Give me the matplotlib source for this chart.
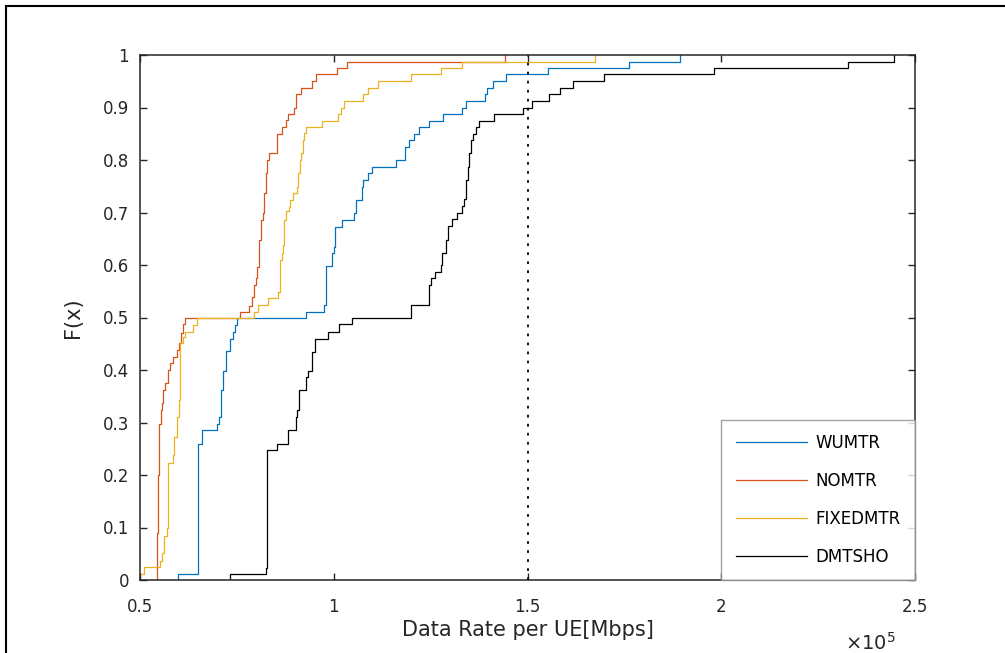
import numpy as np
import matplotlib
matplotlib.use('Agg')
import matplotlib.pyplot as plt
from matplotlib.patches import Rectangle

# MATLAB default colours
colors = ['#0072BD', '#D95319', '#EDB120', '#000000']
labels = ['WUMTR', 'NOMTR', 'FIXEDMTR', 'DMTSHO']

###########################################################
# step points of the empirical CDFs (x in units of 1e5)
###########################################################
x_wumtr = [0.599, 0.599, 0.650, 0.659, 0.699, 0.704, 0.708, 0.713, 0.721, 0.732, 0.739, 0.745, 0.750,
           0.928, 0.975, 0.980, 0.996, 1.001, 1.003, 1.021, 1.053, 1.057, 1.072, 1.076, 1.088, 1.099,
           1.160, 1.184, 1.195, 1.207, 1.221, 1.246, 1.283, 1.330, 1.341, 1.390, 1.396, 1.412, 1.444,
           1.554, 1.763, 1.894]
F_wumtr = [0.0, 0.012, 0.260, 0.286, 0.298, 0.311, 0.362, 0.399, 0.437, 0.460, 0.473, 0.486, 0.500,
           0.511, 0.524, 0.599, 0.622, 0.635, 0.673, 0.686, 0.699, 0.724, 0.749, 0.762, 0.775, 0.787,
           0.800, 0.825, 0.838, 0.849, 0.862, 0.875, 0.888, 0.900, 0.913, 0.926, 0.938, 0.951, 0.963,
           0.975, 0.987, 1.0]

x_nomtr = [0.544, 0.544, 0.547, 0.550, 0.553, 0.557, 0.560, 0.564, 0.571, 0.577, 0.584, 0.595, 0.600,
           0.607, 0.612, 0.616, 0.758, 0.782, 0.789, 0.794, 0.799, 0.803, 0.806, 0.808, 0.811, 0.817,
           0.821, 0.824, 0.829, 0.834, 0.853, 0.866, 0.877, 0.882, 0.897, 0.903, 0.915, 0.943, 0.954,
           1.009, 1.033, 1.443]
F_nomtr = [0.0, 0.090, 0.200, 0.298, 0.324, 0.337, 0.362, 0.375, 0.400, 0.413, 0.425, 0.438, 0.451,
           0.470, 0.488, 0.500, 0.511, 0.521, 0.540, 0.562, 0.575, 0.597, 0.638, 0.648, 0.686, 0.700,
           0.737, 0.775, 0.800, 0.813, 0.850, 0.862, 0.876, 0.888, 0.900, 0.926, 0.938, 0.951, 0.963,
           0.976, 0.987, 1.0]

x_fixed = [0.497, 0.497, 0.510, 0.552, 0.558, 0.563, 0.569, 0.572, 0.584, 0.589, 0.595, 0.601, 0.603,
           0.610, 0.616, 0.638, 0.648, 0.795, 0.805, 0.831, 0.855, 0.861, 0.866, 0.870, 0.872, 0.878,
           0.884, 0.887, 0.896, 0.904, 0.909, 0.913, 0.916, 0.920, 0.923, 0.928, 0.969, 1.010, 1.018,
           1.026, 1.076, 1.089, 1.115, 1.199, 1.278, 1.332, 1.673]
F_fixed = [0.0, 0.012, 0.024, 0.036, 0.052, 0.083, 0.100, 0.222, 0.238, 0.273, 0.311, 0.343, 0.451,
           0.463, 0.473, 0.486, 0.500, 0.511, 0.524, 0.537, 0.549, 0.610, 0.622, 0.638, 0.686, 0.702,
           0.711, 0.724, 0.737, 0.749, 0.775, 0.800, 0.813, 0.838, 0.851, 0.862, 0.875, 0.888, 0.900,
           0.913, 0.926, 0.938, 0.951, 0.963, 0.976, 0.987, 1.0]

x_dmtsho = [0.732, 0.732, 0.825, 0.829, 0.853, 0.881, 0.902, 0.906, 0.911, 0.928, 0.933, 0.945, 0.952,
            0.984, 1.014, 1.046, 1.199, 1.246, 1.250, 1.261, 1.276, 1.280, 1.289, 1.294, 1.304, 1.319,
            1.330, 1.336, 1.341, 1.346, 1.350, 1.354, 1.360, 1.366, 1.375, 1.414, 1.489, 1.511, 1.556,
            1.584, 1.618, 1.697, 1.982, 2.328, 2.447]
F_dmtsho = [0.0, 0.012, 0.023, 0.248, 0.260, 0.286, 0.311, 0.324, 0.361, 0.386, 0.399, 0.435, 0.460,
            0.473, 0.487, 0.500, 0.524, 0.562, 0.575, 0.587, 0.600, 0.622, 0.648, 0.674, 0.687, 0.700,
            0.712, 0.725, 0.762, 0.787, 0.813, 0.838, 0.849, 0.862, 0.875, 0.888, 0.900, 0.913, 0.926,
            0.938, 0.951, 0.963, 0.975, 0.987, 1.0]

xticks = [0.5, 1, 1.5, 2, 2.5]
xticklabels = ['0.5', '1', '1.5', '2', '2.5']
yticks = [0, 0.1, 0.2, 0.3, 0.4, 0.5, 0.6, 0.7, 0.8, 0.9, 1]
yticklabels = ['0', '0.1', '0.2', '0.3', '0.4', '0.5', '0.6', '0.7', '0.8', '0.9', '1']
x_threshold = 1.5

###########################################################
plt.rcParams['font.family'] = ['DejaVu Sans']

fig = plt.figure(figsize=(10.05, 6.53), dpi=100)
ax = fig.add_axes([140/1005., 1-580/653., 775/1005., 525/653.])

curves = [(x_wumtr, F_wumtr), (x_nomtr, F_nomtr), (x_fixed, F_fixed), (x_dmtsho, F_dmtsho)]
for i, (xs, Fs) in enumerate(curves):
	ax.step(xs, Fs, where='post', color=colors[i], lw=0.9, label=labels[i])

ax.axvline(x_threshold, ymin=0, ymax=1, color='k', lw=1.3, linestyle=(0, (1.5, 3.5)))

ax.set_xlim(0.5, 2.5)
ax.set_ylim(0, 1)
ax.set_xticks(xticks)
ax.set_xticklabels(xticklabels, fontsize=12)
ax.set_yticks(yticks)
ax.set_yticklabels(yticklabels, fontsize=12)
ax.tick_params(axis='both', direction='in', top=True, right=True, length=5, width=1.0,
			   colors='#262626')
ax.tick_params(axis='x', pad=13)
ax.tick_params(axis='y', pad=8)
for s in ax.spines.values():
	s.set_linewidth(1.1)
	s.set_color('#262626')

ax.set_xlabel('Data Rate per UE[Mbps]', fontsize=15, color='#262626', labelpad=3)
ax.set_ylabel('F(x)', fontsize=15, color='#262626', labelpad=14)
ax.text(0.975, -0.12, r'$\times10^{5}$', transform=ax.transAxes, ha='right', va='center',
		fontsize=14, color='#262626')

lgd = ax.legend(loc='lower right', fontsize=12, frameon=True, fancybox=False,
				handlelength=4.3, labelspacing=1.2, borderaxespad=0.0, borderpad=0.85,
				handletextpad=0.5)
lgd.get_frame().set_edgecolor('#8c8c8c')
lgd.get_frame().set_linewidth(1.0)

# outer frame of the figure
fig.patches.append(Rectangle((6/1005., -0.05), 1.1, 0.05+1-6/653., transform=fig.transFigure,
							 fill=False, edgecolor='k', lw=1.5))

plt.savefig('out.png', dpi=100)
